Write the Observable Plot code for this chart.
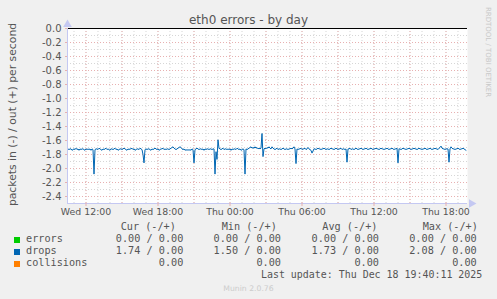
<!DOCTYPE html>
<html><head><meta charset="utf-8">
<script src="https://cdn.jsdelivr.net/npm/d3@7"></script>
<script src="https://cdn.jsdelivr.net/npm/@observablehq/plot@0.6"></script>
<style>
html,body{margin:0;padding:0;background:#f0f0f0;}
#wrap{position:relative;width:497px;height:299px;overflow:hidden;font-family:"DejaVu Sans";color:#555;}
#wrap svg{position:absolute;left:0;top:0;}
.abs{position:absolute;white-space:pre;}
.mono{font-family:"DejaVu Sans Mono";font-size:10.2px;line-height:12px;height:12px;}
.sq{position:absolute;width:6px;height:6px;}
</style></head><body><div id="wrap"></div>
<script>
// ---- data ----
const title = "eth0 errors - by day";
const yLabel = "packets in (-) / out (+) per second";
const yTicks = [0, -0.2, -0.4, -0.6, -0.8, -1.0, -1.2, -1.4, -1.6, -1.8, -2.0, -2.2, -2.4];
const xTicks = [
  Date.UTC(2025,11,17,12), Date.UTC(2025,11,17,18), Date.UTC(2025,11,18,0),
  Date.UTC(2025,11,18,6), Date.UTC(2025,11,18,12), Date.UTC(2025,11,18,18)
];
const seriesNames = ["errors", "drops", "collisions"];
const seriesColors = ["#00cc00", "#0066b3", "#ff8000"];
const curVals = ["0.00 / 0.00", "1.74 / 0.00", "0.00"];
const minVals = ["0.00 / 0.00", "1.50 / 0.00", "0.00"];
const avgVals = ["0.00 / 0.00", "1.73 / 0.00", "0.00"];
const maxVals = ["0.00 / 0.00", "2.08 / 0.00", "0.00"];
const lastUpdate = "Last update: Thu Dec 18 19:40:11 2025";
// drops (in, drawn negative), one sample every 5 minutes from Wed 10:30
const dropsIn = [
-1.72,-1.73,-1.72,-1.72,-1.74,-1.73,-1.72,-1.73,-1.71,-1.73,-1.72,-1.74,-1.72,-1.73,-1.72,-1.72,-1.73,-1.74,-1.72,-1.73,
-1.72,-1.73,-1.72,-1.74,-1.72,-1.73,-2.08,-1.73,-1.72,-1.72,-1.73,-1.71,-1.72,-1.73,-1.74,-1.72,-1.73,-1.72,-1.71,-1.73,
-1.72,-1.73,-1.74,-1.72,-1.72,-1.73,-1.72,-1.71,-1.73,-1.72,-1.74,-1.73,-1.72,-1.72,-1.73,-1.72,-1.71,-1.72,-1.73,-1.74,
-1.72,-1.73,-1.72,-1.72,-1.71,-1.73,-1.72,-1.74,-1.73,-1.72,-1.72,-1.73,-1.71,-1.72,-1.73,-1.80,-1.92,-1.73,-1.72,-1.73,
-1.72,-1.72,-1.73,-1.74,-1.72,-1.73,-1.72,-1.71,-1.72,-1.73,-1.72,-1.74,-1.73,-1.72,-1.72,-1.71,-1.73,-1.72,-1.73,-1.72,
-1.72,-1.73,-1.72,-1.71,-1.70,-1.69,-1.71,-1.72,-1.73,-1.72,-1.71,-1.70,-1.69,-1.70,-1.72,-1.73,-1.72,-1.74,-1.73,-1.74,
-1.73,-1.74,-1.73,-1.74,-1.72,-1.73,-1.92,-1.73,-1.72,-1.71,-1.72,-1.73,-1.72,-1.72,-1.73,-1.72,-1.74,-1.72,-1.73,-1.72,
-1.72,-1.73,-1.72,-1.72,-1.73,-1.72,-1.72,-2.08,-1.76,-1.87,-1.59,-1.71,-1.72,-1.73,-1.72,-1.71,-1.73,-1.72,-1.72,-1.73,
-1.72,-1.73,-1.72,-1.74,-1.72,-1.73,-1.72,-1.72,-1.73,-1.71,-1.72,-1.73,-1.72,-1.74,-1.73,-1.72,-1.73,-2.08,-1.72,-1.73,
-1.72,-1.71,-1.70,-1.69,-1.71,-1.70,-1.71,-1.69,-1.71,-1.70,-1.72,-1.71,-1.72,-1.71,-1.50,-1.83,-1.72,-1.71,-1.72,-1.70,
-1.71,-1.69,-1.71,-1.72,-1.69,-1.71,-1.72,-1.73,-1.72,-1.71,-1.73,-1.72,-1.72,-1.73,-1.72,-1.71,-1.72,-1.73,-1.72,-1.72,
-1.73,-1.72,-1.72,-1.71,-1.72,-1.71,-1.69,-1.72,-1.93,-1.72,-1.73,-1.72,-1.72,-1.71,-1.73,-1.72,-1.72,-1.71,-1.73,-1.72,
-1.70,-1.72,-1.73,-1.74,-1.78,-1.75,-1.72,-1.72,-1.73,-1.72,-1.71,-1.72,-1.72,-1.73,-1.72,-1.72,-1.71,-1.72,-1.73,-1.72,
-1.72,-1.73,-1.72,-1.71,-1.72,-1.72,-1.73,-1.72,-1.71,-1.72,-1.73,-1.72,-1.72,-1.71,-1.73,-1.72,-1.72,-1.73,-1.72,-1.91,
-1.72,-1.72,-1.71,-1.73,-1.72,-1.72,-1.73,-1.72,-1.71,-1.72,-1.73,-1.72,-1.72,-1.71,-1.72,-1.73,-1.72,-1.72,-1.71,-1.72,
-1.73,-1.72,-1.72,-1.71,-1.72,-1.73,-1.72,-1.72,-1.71,-1.72,-1.72,-1.73,-1.72,-1.71,-1.72,-1.72,-1.73,-1.72,-1.72,-1.71,
-1.72,-1.73,-1.72,-1.72,-1.71,-1.72,-1.73,-1.72,-1.72,-1.71,-1.92,-1.72,-1.72,-1.73,-1.72,-1.71,-1.72,-1.72,-1.73,-1.72,
-1.72,-1.71,-1.72,-1.73,-1.72,-1.72,-1.71,-1.72,-1.72,-1.73,-1.72,-1.71,-1.72,-1.72,-1.73,-1.72,-1.72,-1.71,-1.72,-1.73,
-1.72,-1.72,-1.71,-1.72,-1.73,-1.72,-1.72,-1.71,-1.72,-1.72,-1.73,-1.71,-1.70,-1.68,-1.71,-1.72,-1.72,-1.73,-1.72,-1.72,
-1.72,-1.91,-1.72,-1.69,-1.71,-1.72,-1.72,-1.73,-1.72,-1.72,-1.71,-1.72,-1.73,-1.72,-1.72,-1.71,-1.72,-1.73,-1.74
];
const t0 = Date.UTC(2025,11,17,10,30);
const stepMs = 5*60*1000;
const xStart = new Date(Date.UTC(2025,11,17,10,27,30));
const xEnd = new Date(Date.UTC(2025,11,18,19,47,30));

// ---- build ----
const data = dropsIn.map((v,i) => ({t: new Date(t0 + i*stepMs), v}));
const xMinor = d3.utcHour.range(xStart, xEnd);
const xMajor = d3.utcHour.every(3).range(xStart, xEnd);
const yMinor = d3.range(1, 25, 2).map(i => -i/10);
const yMajor = yTicks.filter(d => d !== 0);
const gridMinor = "#d6d6d6", gridMajor = "#e8b0b0", axisCol = "#c4c8f2";

const chart = Plot.plot({
  width: 497, height: 220,
  marginLeft: 67, marginRight: 30, marginTop: 28, marginBottom: 17,
  style: {background: "transparent", fontFamily: "DejaVu Sans", color: "#555", overflow: "visible"},
  x: {type: "utc", domain: [xStart, xEnd], axis: null},
  y: {domain: [-2.5, 0], axis: null},
  marks: [
    Plot.frame({fill: "white", stroke: "none"}),
    Plot.ruleY(yMinor, {stroke: gridMinor, strokeDasharray: "1,2"}),
    Plot.ruleX(xMinor, {stroke: gridMinor, strokeDasharray: "1,2"}),
    Plot.ruleY(yMajor, {stroke: gridMajor, strokeDasharray: "1,2"}),
    Plot.ruleX(xMajor, {stroke: gridMajor, strokeDasharray: "1,2"}),
    Plot.line(data, {x: "t", y: "v", stroke: seriesColors[1], strokeWidth: 1}),
    Plot.ruleY([0], {stroke: "#000", strokeWidth: 1}),
    Plot.ruleY([-2.5], {stroke: axisCol}),
    Plot.ruleX([xStart], {stroke: axisCol}),
    Plot.dot([xStart], {x: d => d, y: () => 0, symbol: "triangle", r: 3.2, fill: axisCol, stroke: "none", dy: -4}),
    Plot.dot([xEnd], {x: d => d, y: () => -2.5, symbol: "triangle", r: 3.2, fill: axisCol, stroke: "none", rotate: 90, dx: 4}),
    Plot.axisX(xTicks.map(d => new Date(d)), {tickFormat: d3.utcFormat("%a %H:%M"), tickSize: 3, tickPadding: 2, stroke: gridMajor, fill: "#555", fontSize: 9.4, label: null}),
    Plot.axisY(yTicks, {tickFormat: d => d.toFixed(1), tickSize: 2, tickPadding: 4, stroke: gridMajor, fill: "#555", fontSize: 10, label: null})
  ]
});
const wrap = document.getElementById("wrap");
wrap.appendChild(chart);

function addText(txt, css, cls) {
  const el = document.createElement("div");
  el.className = "abs" + (cls ? " " + cls : "");
  el.textContent = txt;
  Object.assign(el.style, css);
  wrap.appendChild(el);
  return el;
}
addText(title, {left: "0px", width: "497px", top: "13px", textAlign: "center", fontSize: "12px", lineHeight: "14px", color: "#555"});
addText(yLabel, {left: "-88px", width: "200px", top: "107.5px", textAlign: "center", fontSize: "10.8px", lineHeight: "13px", transform: "rotate(-90deg)", color: "#555"});
addText("RRDTOOL / TOBI OETIKER", {left: "438px", width: "100px", top: "48px", textAlign: "center", fontSize: "7px", lineHeight: "8px", transform: "rotate(90deg)", color: "#c8c8c8"});

// legend
const headerLefts = [120.7, 221.7, 322.3, 422.7];
const headers = ["Cur (-/+)", "Min (-/+)", "Avg (-/+)", "Max (-/+)"];
headers.forEach((h, i) => addText(h, {left: headerLefts[i] + "px", top: "221px", color: "#555"}, "mono"));
const colRights = [183.3, 281, 379, 476.7];
const cols = [curVals, minVals, avgVals, maxVals];
seriesNames.forEach((name, r) => {
  const top = 233 + r*12;
  const sq = document.createElement("div");
  sq.className = "sq";
  Object.assign(sq.style, {left: "14px", top: (top + 4) + "px", background: seriesColors[r]});
  wrap.appendChild(sq);
  addText(name, {left: "26px", top: top + "px", color: "#555"}, "mono");
  cols.forEach((c, k) => addText(c[r], {right: (497 - colRights[k]) + "px", top: top + "px", color: "#555"}, "mono"));
});
addText(lastUpdate, {right: (497 - 482.3) + "px", top: "269px", color: "#555", fontSize: "9.95px"}, "mono");
addText("Munin 2.0.76", {left: "0px", width: "497px", top: "284px", textAlign: "center", fontSize: "7.7px", lineHeight: "10px", color: "#cccccc"});
</script></body></html>
